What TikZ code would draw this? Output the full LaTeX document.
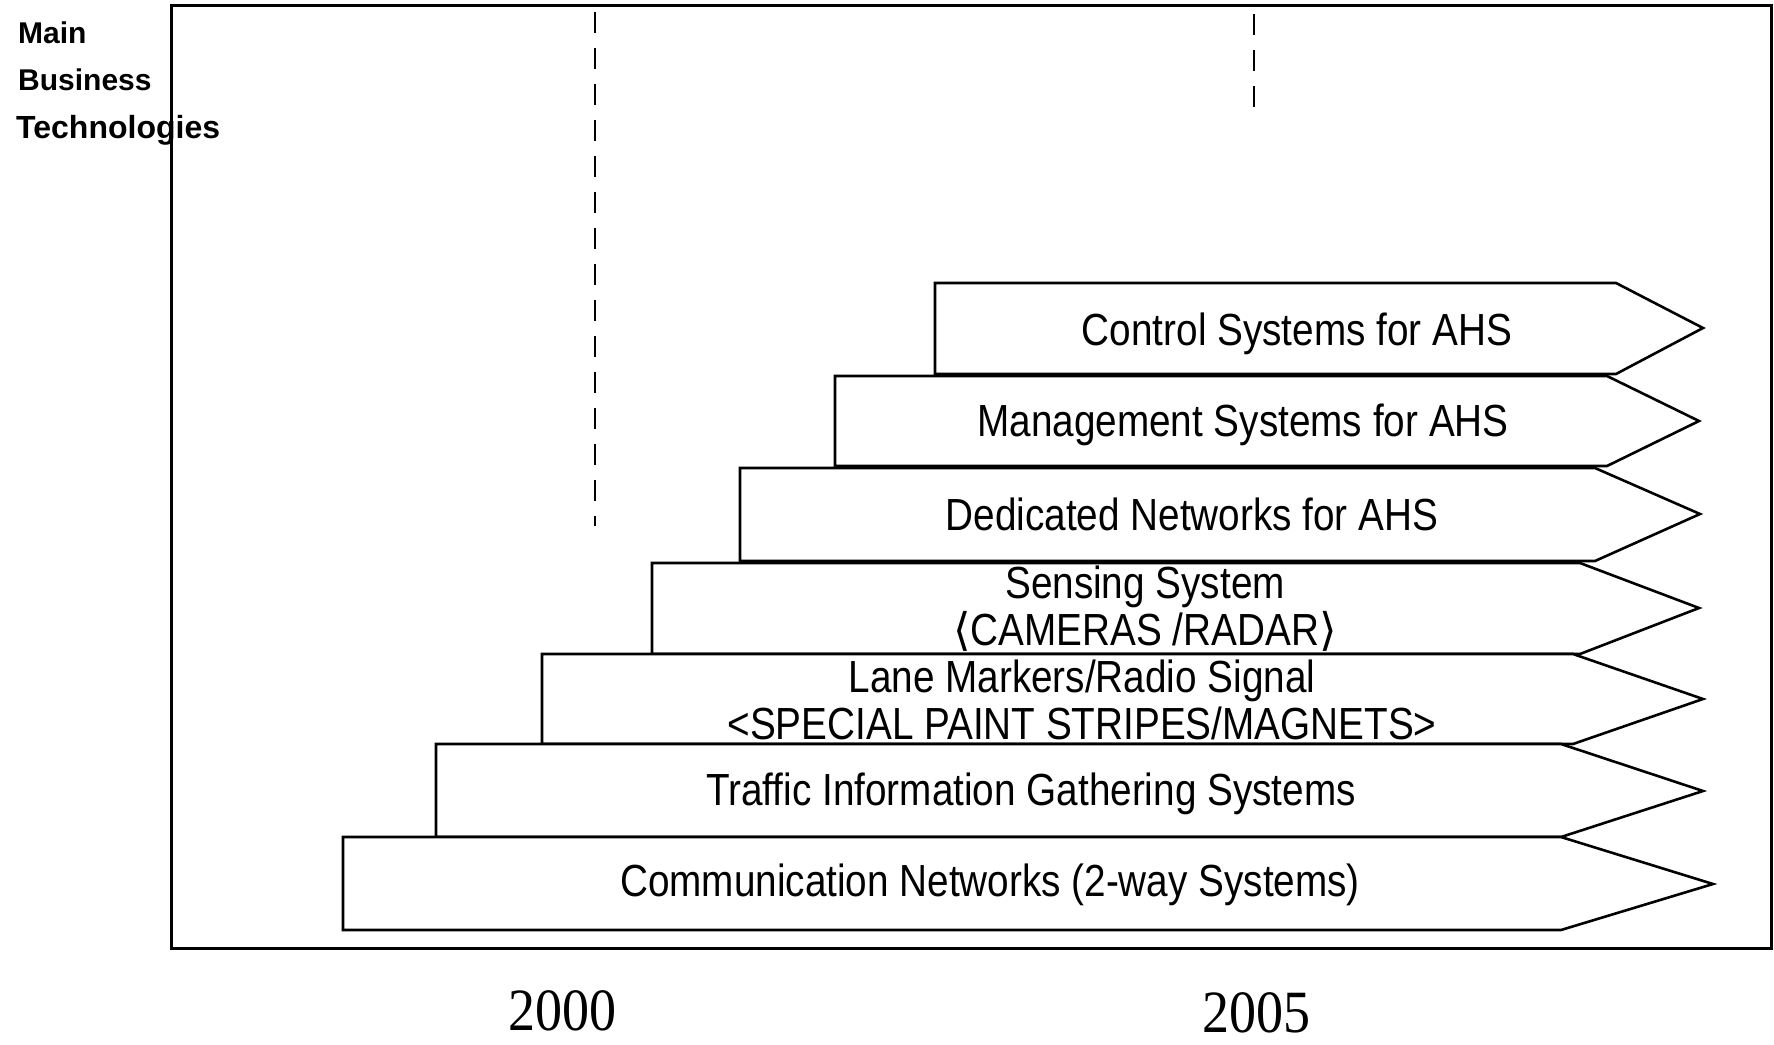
\documentclass[tikz,border=0pt]{standalone}
\usepackage{fontspec}
\setmainfont{Liberation Sans}
\newfontfamily\narrowsans[FakeStretch=0.86]{Liberation Sans}
\newfontfamily\yearfont[FakeStretch=0.9]{Liberation Serif}
\newfontfamily\symfont{DejaVu Sans}
\begin{document}
\begin{tikzpicture}[x=1pt,y=-1pt,
  techbox/.style={draw=black,fill=white,line width=2.6pt,line join=miter},
  techtext/.style={font=\narrowsans\fontsize{45}{47}\selectfont,align=center,inner sep=0pt},
  sidelabel/.style={font=\bfseries\fontsize{30}{32}\selectfont,anchor=base west,inner sep=0pt},
  yearlabel/.style={font=\yearfont\fontsize{60}{62}\selectfont,inner sep=0pt},
  yearline/.style={line width=2.6pt,dash pattern=on 21pt off 15pt}]
\useasboundingbox (0,0) rectangle (1774,1044);
% frame
\draw[line width=3pt] (171,5) rectangle (1771,948);
% dashed year markers
\coordinate (d0top) at (595,12);
\coordinate (d0bot) at (595,526);
\coordinate (d5top) at (1254,14);
\coordinate (d5bot) at (1254,107);
\draw[yearline] (d0top) -- (d0bot);
\draw[yearline] (d5top) -- (d5bot);
% side label
\node[sidelabel] (lmain) at (18,43) {Main};
\node[sidelabel] (lbus) at (18,90) {Business};
\node[sidelabel,font=\bfseries\fontsize{32}{34}\selectfont] (ltech) at (16,138) {Technologies};
% arrows: left, top, bottom, right, tip
\draw[techbox] (935,283) -- (1616,283) -- (1703,328) -- (1616,374) -- (935,374) -- cycle;
\draw[techbox] (835,376) -- (1607,376) -- (1699,421) -- (1607,466) -- (835,466) -- cycle;
\draw[techbox] (740,468) -- (1595,468) -- (1700,514) -- (1595,561) -- (740,561) -- cycle;
\draw[techbox] (652,563) -- (1580,563) -- (1699,608) -- (1580,654) -- (652,654) -- cycle;
\draw[techbox] (542,654) -- (1573,654) -- (1703,699) -- (1573,744) -- (542,744) -- cycle;
\draw[techbox] (436,744) -- (1561,744) -- (1703,791) -- (1561,837) -- (436,837) -- cycle;
\draw[techbox] (343,837) -- (1561,837) -- (1713,884) -- (1561,930) -- (343,930) -- cycle;
% texts
\node[techtext] (tctrl) at (1297,334) {Control Systems for AHS};
\node[techtext] (tmgmt) at (1243,425) {Management Systems for AHS};
\node[techtext] (tded) at (1192,514) {Dedicated Networks for AHS};
\node[techtext] (tsens) at (1145,609) {Sensing System\\{\symfont⟨}CAMERAS /RADAR{\symfont⟩}};
\node[techtext] (tlane) at (1082,700) {Lane Markers/Radio Signal\\<SPECIAL PAINT STRIPES/MAGNETS>};
\node[techtext] (ttraf) at (1031,794) {Traffic Information Gathering Systems};
\node[techtext] (tcomm) at (990,885) {Communication Networks (2-way Systems)};
% years
\node[yearlabel] (y2000) at (562,1011) {2000};
\node[yearlabel] (y2005) at (1256,1013) {2005};
\end{tikzpicture}
\end{document}
